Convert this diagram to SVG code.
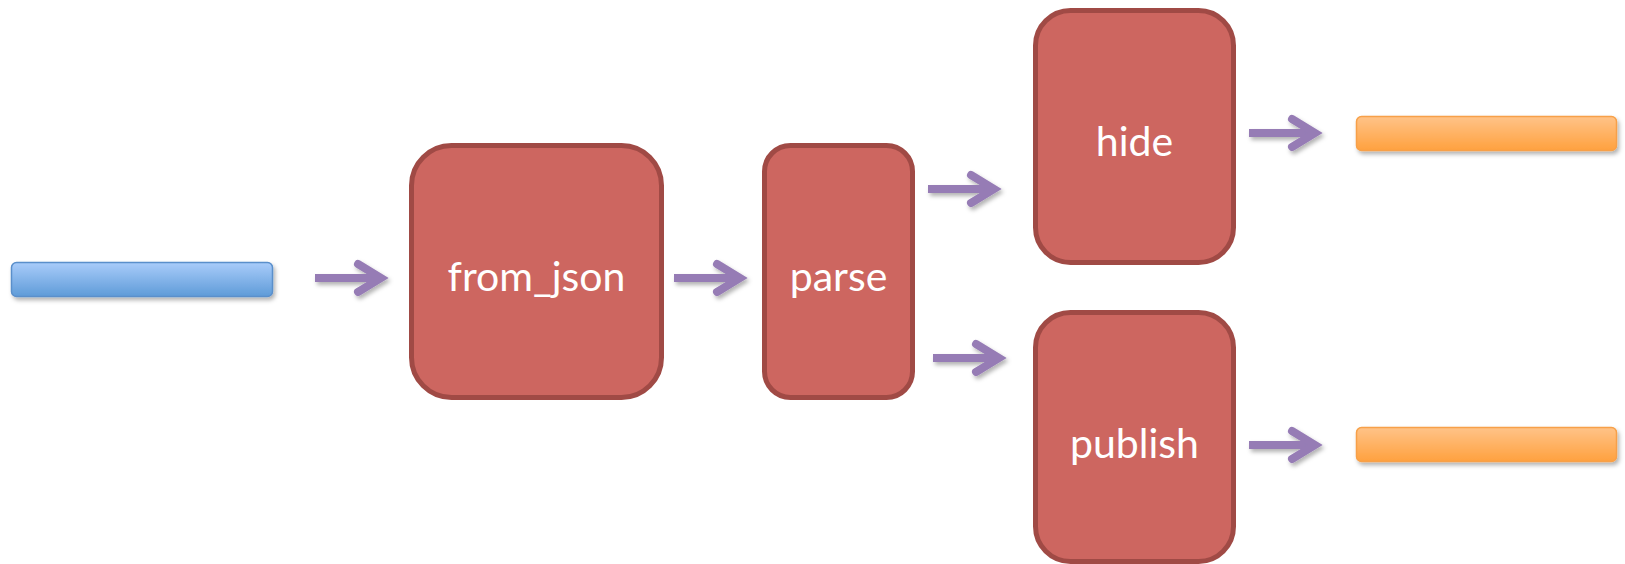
<svg xmlns="http://www.w3.org/2000/svg" xmlns:xlink="http://www.w3.org/1999/xlink" width="1625" height="564" viewBox="0 0 1625 564">
  <style>
    .step { fill: #CD6660; stroke: #A04A45; stroke-width: 5; }
    .label { fill: #FFFFFF; font-family: Lato, "Open Sans", "Liberation Sans", sans-serif; font-size: 41px; text-anchor: middle; }
    .flow { fill: none; stroke: #967CB5; stroke-width: 8; stroke-linejoin: miter; stroke-miterlimit: 10; }
    .bar-in { fill: url(#blueGrad); stroke: #5A8FCB; stroke-width: 1.5; }
    .bar-out { fill: url(#orangeGrad); stroke: #F7A048; stroke-width: 1.5; }
  </style>
  <defs>
    <linearGradient id="blueGrad" x1="0" y1="0" x2="0" y2="1">
      <stop offset="0" stop-color="#A9CCFA"/>
      <stop offset="1" stop-color="#5E9BD8"/>
    </linearGradient>
    <linearGradient id="orangeGrad" x1="0" y1="0" x2="0" y2="1">
      <stop offset="0" stop-color="#FFC388"/>
      <stop offset="1" stop-color="#FFA13F"/>
    </linearGradient>
    <filter id="softShadow" x="-10%" y="-30%" width="130%" height="180%">
      <feDropShadow dx="2" dy="3" stdDeviation="2" flood-color="#000000" flood-opacity="0.3"/>
    </filter>
    <!-- arrow drawn with its chevron vertex at the origin -->
    <g id="arrow">
      <path class="flow" d="M-66,0 H-2" stroke-linecap="butt"/>
      <path class="flow" d="M-23,-14 L0,0 L-23,14" stroke-linecap="round"/>
    </g>
  </defs>

  <!-- input bar -->
  <g id="input">
    <rect class="bar-in" x="11.5" y="262.5" width="261" height="34" rx="5" filter="url(#softShadow)"/>
  </g>

  <!-- processing steps -->
  <g id="from_json">
    <rect class="step" x="411.5" y="145.5" width="250" height="252" rx="40"/>
    <text class="label" x="536.5" y="291">from_json</text>
  </g>
  <g id="parse">
    <rect class="step" x="764.5" y="145.5" width="148" height="252" rx="26"/>
    <text class="label" x="838.5" y="291">parse</text>
  </g>
  <g id="hide">
    <rect class="step" x="1035.5" y="10.5" width="198" height="252" rx="35"/>
    <text class="label" x="1134.5" y="156">hide</text>
  </g>
  <g id="publish">
    <rect class="step" x="1035.5" y="312.5" width="198" height="249" rx="35"/>
    <text class="label" x="1134.5" y="458">publish</text>
  </g>

  <!-- output bars -->
  <g id="output_hide">
    <rect class="bar-out" x="1356.5" y="116.5" width="260" height="34" rx="5" filter="url(#softShadow)"/>
  </g>
  <g id="output_publish">
    <rect class="bar-out" x="1356.5" y="427.5" width="260" height="34" rx="5" filter="url(#softShadow)"/>
  </g>

  <!-- connectors -->
  <g id="connectors" filter="url(#softShadow)">
    <use xlink:href="#arrow" transform="translate(381,278)"/>
    <use xlink:href="#arrow" transform="translate(740,278)"/>
    <use xlink:href="#arrow" transform="translate(994,189)"/>
    <use xlink:href="#arrow" transform="translate(999,358)"/>
    <use xlink:href="#arrow" transform="translate(1315,133)"/>
    <use xlink:href="#arrow" transform="translate(1315,445)"/>
  </g>
</svg>
